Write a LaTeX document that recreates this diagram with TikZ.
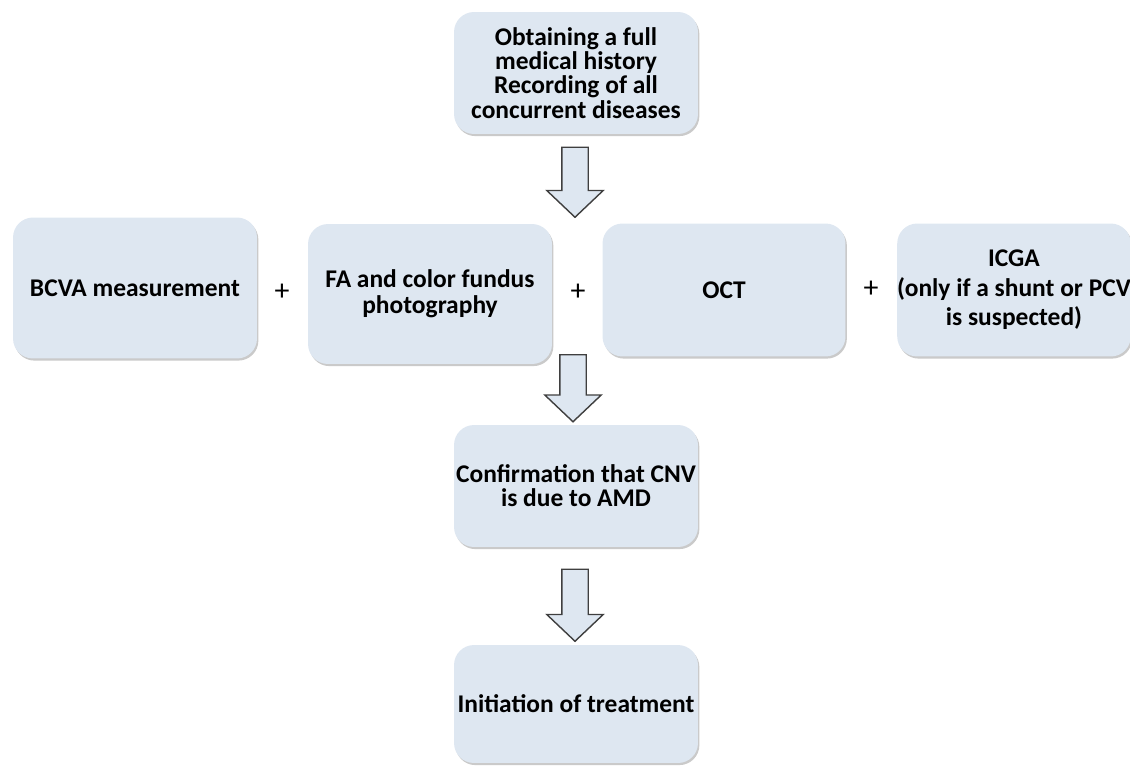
\documentclass[tikz,border=0pt]{standalone}
\usepackage{fontspec}
\setmainfont{Carlito}
\usepackage{tikz}
\usetikzlibrary{shapes.arrows, positioning, shadows}

\definecolor{boxblue}{HTML}{DEE7F1}
\definecolor{edgegray}{HTML}{3F3F3F}

\begin{document}
\begin{tikzpicture}[
        x=0.02cm, y=-0.02cm,
        every node/.style={inner sep=0pt, outer sep=0pt},
        stage/.style={rectangle, fill=boxblue, rounded corners=0.4cm, minimum width=4.88cm, minimum height=2.4cm, align=center, font=\fontsize{14.5pt}{13.8pt}\selectfont\bfseries, drop shadow={shadow xshift=0.8pt, shadow yshift=-1.2pt, opacity=0.35, fill=black!60}},
        plus/.style={font=\fontsize{17pt}{17pt}\selectfont},
        downarrow/.style={single arrow, draw=edgegray, fill=boxblue, thick, inner sep=0.25cm, shape border rotate=270, single arrow head extend=0.3cm, single arrow tip angle=93}
    ]
        \useasboundingbox (0,0) rectangle (1130,765);

        \node[stage, minimum height=2.44cm] (hist) at (576,73) {Obtaining a full\\medical history\\Recording of all\\concurrent diseases};

        \node[stage, minimum height=2.82cm] (bcva) at (135,288) {BCVA measurement};
        \node[stage, minimum height=2.8cm] (fa) at (430,294) {FA and color fundus\\[1pt]photography};
        \node[stage, minimum width=4.86cm, minimum height=2.66cm] (oct) at (724,290) {OCT};
        \node[stage, minimum width=4.66cm, minimum height=2.66cm] (icga) at (1014,290) {ICGA\\[3pt](only if a shunt or PCV\\[3pt]is suspected)};

        \node[plus] (p1) at (282,292) {+};
        \node[plus] (p2) at (578,292) {+};
        \node[plus] (p3) at (871,289) {+};

        \node[stage, minimum height=2.44cm] (conf) at (576,486) {Confirmation that CNV\\is due to AMD};
        \node[stage, minimum height=2.36cm] (init) at (576,704) {Initiation of treatment};

        % block arrows between the stages
        \node[downarrow, minimum height=1.4cm] (a1) at (575,176) {};
        \node[downarrow, minimum height=1.34cm] (a2) at (573,382) {};
        \node[downarrow, minimum height=1.44cm] (a3) at (575,599) {};
    \end{tikzpicture}
\end{document}
